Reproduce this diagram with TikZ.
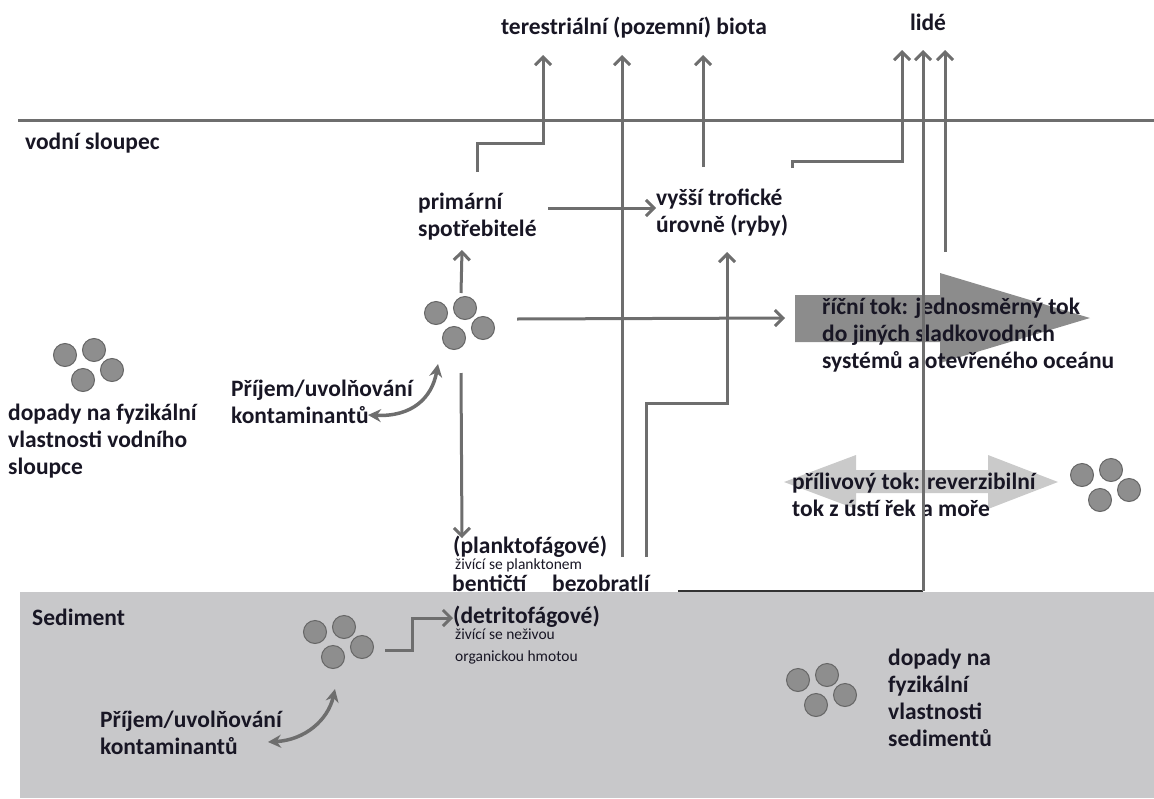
\documentclass[tikz,border=0pt]{standalone}
\usepackage{fontspec}
\setmainfont{Carlito}
\usetikzlibrary{arrows.meta,positioning}
\definecolor{linegray}{RGB}{110,110,110}
\definecolor{sedgray}{RGB}{200,200,202}
\definecolor{rivergray}{RGB}{140,140,140}
\definecolor{tidegray}{RGB}{202,202,202}
\definecolor{dotgray}{RGB}{142,142,142}
\definecolor{txt}{RGB}{24,22,36}

\tikzset{
  lbl/.style={font=\fontsize{23.5}{27}\selectfont\bfseries, text=txt, inner sep=0pt, anchor=west, align=left},
  note/.style={font=\fontsize{15.5}{22}\selectfont, text=txt, inner sep=0pt, anchor=base west, align=left},
  flow/.style={draw=linegray, line width=3pt, -{Straight Barb[length=8pt,width=16pt]}},
  link/.style={draw=linegray, line width=3pt},
  swap/.style={draw=linegray, line width=3.5pt, {Stealth[length=13pt,width=13pt]}-{Stealth[length=13pt,width=13pt]}},
  dot/.style={circle, draw=black!60, fill=dotgray, line width=1pt, minimum size=23pt, inner sep=0pt},
}

% four particles, #1 = name, #2 = top left particle
\newcommand\particles[2]{%
  \begin{scope}[shift={#2}]
    \node[dot] at (0,0) {};
    \node[dot] at (29,-5) {};
    \node[dot] at (47,15) {};
    \node[dot] at (18,25) {};
    \coordinate (#1) at (23,10);
  \end{scope}}

\begin{document}
\begin{tikzpicture}[x=1pt,y=-1pt]
  \useasboundingbox (0,0) rectangle (1154,798);

  % sediment and water column
  \fill[sedgray] (20,592) rectangle (1154,798);
  \draw[link] (18,120) -- (1154,120);

  % river flow and tidal flow
  \fill[rivergray] (795,295) -- (940,295) -- (940,273) -- (1090,318)
    -- (940,363) -- (940,342) -- (795,342) -- cycle;
  \fill[tidegray] (784,482) -- (856,455) -- (856,470) -- (988,470) -- (988,455)
    -- (1058,482) -- (988,509) -- (988,493) -- (856,493) -- (856,509) -- cycle;

  % labels
  \node[lbl,anchor=center] (terr) at (634,28) {terestriální (pozemní) biota};
  \node[lbl,anchor=center] (lide) at (928,22) {lidé};
  \node[lbl] (voda) at (25,143) {vodní sloupec};
  \node[lbl] (sed) at (32,617) {Sediment};
  \node[lbl] (prim) at (418,217) {primární\\spotřebitelé};
  \node[lbl] (ryby) at (656,213) {vyšší trofické\\úrovně (ryby)};
  \node[lbl] (reka) at (822,335) {říční tok: jednosměrný tok\\do jiných sladkovodních\\systémů a otevřeného oceánu};
  \node[lbl] (priliv) at (792,495) {přílivový tok: reverzibilní\\tok z ústí řek a moře};
  \node[lbl] (fyzvoda) at (8,441) {dopady na fyzikální\\vlastnosti vodního\\sloupce};
  \node[lbl] (prijem) at (231,402) {Příjem/uvolňování\\kontaminantů};
  \node[lbl] (prijemsed) at (100,733) {Příjem/uvolňování\\kontaminantů};
  \node[lbl] (fyzsed) at (888,698) {dopady na\\fyzikální\\vlastnosti\\sedimentů};
  \node[lbl,anchor=base west] (plank) at (453,553) {(planktofágové)};
  \node[note] (plankpop) at (455,569) {živící se planktonem};
  \node[lbl,anchor=base west] (bent) at (452,591) {bentičtí};
  \node[lbl,anchor=base west] (bezob) at (552,591) {bezobratlí};
  \node[lbl,anchor=base west] (detr) at (453,623) {(detritofágové)};
  \node[note] (detrpop) at (455,661) {živící se neživou\\organickou hmotou};

  % particles
  \particles{pvoda}{(436,313)}
  \particles{pleft}{(65,355)}
  \particles{ptide}{(1082,475)}
  \particles{psed}{(315,632)}
  \particles{psedr}{(798,680)}

  % connector ends
  \coordinate (terrA) at (543,55);
  \coordinate (terrB) at (622,55);
  \coordinate (terrC) at (703,55);
  \coordinate (lideA) at (902,50);
  \coordinate (lideB) at (923,50);
  \coordinate (lideC) at (945,50);
  \coordinate (primout) at (477,172);
  \coordinate (rybyout) at (792,168);
  \coordinate (rybytop) at (703,167);
  \coordinate (rybyin) at (727,252);
  \coordinate (bentout) at (622,557);
  \coordinate (bezout) at (646,557);
  \coordinate (sedout) at (678,591);
  \coordinate (rekaout) at (945,252);

  % to terrestrial biota and people
  \draw[flow] (primout) |- (543,143) -- (terrA);
  \draw[flow] (bentout) -- (terrB);
  \draw[flow] (rybytop) -- (terrC);
  \draw[flow] (rybyout) -- (792,161) -| (lideA);
  \draw[draw=black!80, line width=2.5pt] (sedout) -- (923,591);
  \draw[flow] (923,591) -- (lideB);
  \draw[flow] (rekaout) -- (lideC);

  % food web inside the water column
  \draw[flow] (bezout) |- (727,403) -- (rybyin);
  \draw[flow] (548,208) -- (ryby.west |- 0,208);
  \draw[flow] (pvoda) ++(2,-30) -- (462,250);
  \draw[flow] (pvoda) ++(2,50) -- (462,538);
  \draw[flow] (pvoda) ++(58,-4) -- (785,318);
  \draw[flow] (psed) ++(47,8) -| (412,618) -- (detr.west |- 0,618);

  % uptake / release
  \draw[swap] (368,415) .. controls (412,417) and (432,398) .. (438,364);
  \draw[swap] (268,742) .. controls (305,740) and (328,720) .. (335,689);
\end{tikzpicture}
\end{document}
